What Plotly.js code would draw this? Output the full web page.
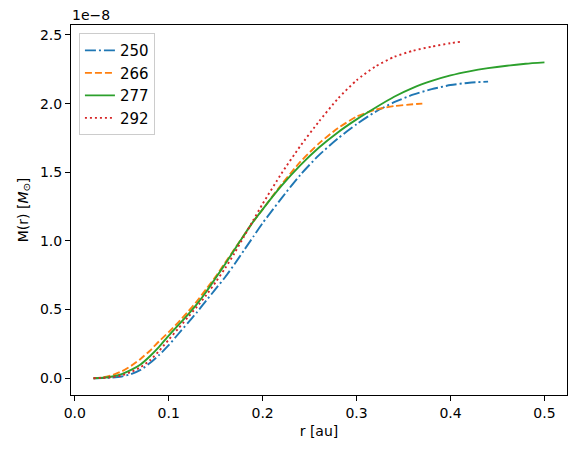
<!DOCTYPE html>
<html>
<head>
<meta charset="utf-8">
<script src="https://cdn.plot.ly/plotly-3.0.1.min.js"></script>
<style>html,body{margin:0;padding:0;background:#fff;}#chart{width:575px;height:450px;}</style>
</head>
<body>
<div id="chart"></div>
<script>
// values in units of 1e-8 solar masses
const r250 = [0.02,0.03,0.04,0.05,0.06,0.07,0.08,0.09,0.10,0.11,0.12,0.13,0.14,0.15,0.16,0.17,0.18,0.19,0.20,0.21,0.22,0.24,0.26,0.28,0.30,0.32,0.34,0.36,0.38,0.40,0.42,0.44];
const m250 = [0,0.001,0.004,0.012,0.03,0.06,0.11,0.17,0.24,0.32,0.40,0.48,0.565,0.65,0.735,0.83,0.93,1.03,1.13,1.22,1.31,1.48,1.625,1.745,1.85,1.94,2.01,2.065,2.105,2.135,2.152,2.16];

const r266 = [0.02,0.03,0.04,0.05,0.06,0.07,0.08,0.09,0.10,0.11,0.12,0.13,0.14,0.15,0.16,0.17,0.18,0.19,0.20,0.22,0.24,0.26,0.28,0.30,0.32,0.34,0.36,0.37];
const m266 = [0,0.006,0.022,0.05,0.09,0.14,0.20,0.27,0.335,0.405,0.48,0.56,0.65,0.74,0.84,0.94,1.04,1.14,1.23,1.41,1.575,1.71,1.82,1.905,1.955,1.982,1.995,2.0];

const r277 = [0.02,0.03,0.04,0.05,0.06,0.07,0.08,0.09,0.10,0.11,0.12,0.13,0.14,0.15,0.16,0.17,0.18,0.19,0.20,0.22,0.24,0.26,0.28,0.30,0.32,0.34,0.36,0.38,0.40,0.42,0.44,0.46,0.48,0.50];
const m277 = [0,0.003,0.012,0.03,0.06,0.10,0.16,0.23,0.31,0.385,0.46,0.54,0.63,0.73,0.83,0.935,1.04,1.14,1.23,1.40,1.55,1.68,1.79,1.885,1.97,2.05,2.115,2.165,2.205,2.235,2.258,2.276,2.29,2.30];

const r292 = [0.02,0.03,0.04,0.05,0.06,0.07,0.08,0.09,0.10,0.11,0.12,0.13,0.14,0.15,0.16,0.17,0.18,0.19,0.20,0.22,0.24,0.26,0.28,0.30,0.32,0.34,0.36,0.38,0.40,0.41];
const m292 = [0,0.002,0.008,0.02,0.045,0.08,0.13,0.20,0.28,0.36,0.44,0.52,0.605,0.70,0.80,0.91,1.03,1.15,1.27,1.49,1.69,1.87,2.035,2.17,2.27,2.34,2.385,2.415,2.44,2.45];

const seriesNames = ['250','266','277','292'];
const xTicks = [0.0,0.1,0.2,0.3,0.4,0.5];
const yTicks = [0.0,0.5,1.0,1.5,2.0,2.5];

const F = 'DejaVu Sans, sans-serif';
const mk = (x, y, name, color, dash) => ({
  x: x, y: y, name: name, legendgroup: name, type: 'scatter', mode: 'lines',
  line: {color: color, width: 1.9, dash: dash, shape: 'spline', smoothing: 0.6}
});
const data = [
  mk(r250, m250, seriesNames[0], '#1f77b4', '11px,3px,2px,3px'),
  mk(r266, m266, seriesNames[1], '#ff7f0e', '7px,3px'),
  mk(r277, m277, seriesNames[2], '#2ca02c', 'solid'),
  mk(r292, m292, seriesNames[3], '#d62728', '2px,3px')
];
const axisCommon = {
  showgrid: false, zeroline: false, showline: true, mirror: true,
  linecolor: '#000', linewidth: 1, ticks: 'outside', ticklen: 5, tickwidth: 1,
  tickcolor: '#000', tickfont: {family: F, size: 14, color: '#000'},
  tickformat: '.1f', tickmode: 'array'
};
const layout = {
  width: 575, height: 450,
  margin: {l: 71, r: 8, t: 25, b: 55},
  paper_bgcolor: '#fff', plot_bgcolor: '#fff',
  font: {family: F, size: 14, color: '#000'},
  xaxis: Object.assign({}, axisCommon, {
    range: [-0.004, 0.524], tickvals: xTicks,
    title: {text: 'r [au]', font: {family: F, size: 14}, standoff: 6}
  }),
  yaxis: Object.assign({}, axisCommon, {
    range: [-0.1225, 2.5725], tickvals: yTicks,
    title: {text: 'M(r) [<i>M</i><sub>⊙</sub>]', font: {family: F, size: 14}, standoff: 8}
  }),
  legend: {
    x: 0.016, y: 0.978, xanchor: 'left', yanchor: 'top',
    bgcolor: 'rgba(255,255,255,0.8)', bordercolor: '#cccccc', borderwidth: 1,
    font: {family: F, size: 15}, tracegroupgap: 0
  },
  showlegend: true,
  annotations: [{
    text: '1e−8', xref: 'paper', yref: 'paper', x: 0, y: 1, xanchor: 'left', yanchor: 'bottom',
    showarrow: false, font: {family: F, size: 14}, xshift: -1, yshift: 0
  }]
};
Plotly.newPlot('chart', data, layout, {displayModeBar: false, staticPlot: true});
</script>
</body>
</html>
